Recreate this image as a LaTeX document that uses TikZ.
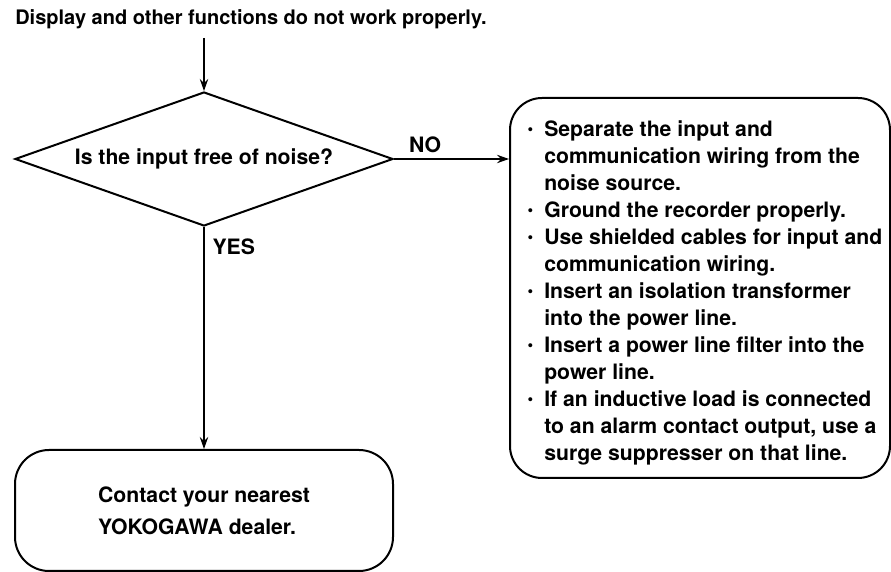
\documentclass[tikz,border=0pt]{standalone}
\usepackage{fontspec}
\setmainfont{TeX Gyre Heros}
\usetikzlibrary{arrows.meta,positioning,shapes.geometric}
\newcommand{\itemdot}{\raisebox{0.9pt}{\fontsize{8}{8}\selectfont\textbullet}}
\tikzset{
	txt/.style={font=\fontsize{10.6}{13.5}\selectfont\bfseries, inner sep=0pt},
	dec/.style={txt, draw, line width=1pt, diamond, aspect=2.8,
		minimum width=189pt, minimum height=67pt},
	blk/.style={txt, draw, line width=1pt, rounded corners=16pt, align=left},
	lbl/.style={txt, inner sep=1pt},
	arr/.style={line width=0.6pt, -{Stealth[length=6pt, width=4.2pt, inset=2pt]}},
}
\begin{document}
\begin{tikzpicture}[x=0.5pt, y=-0.5pt]
	\useasboundingbox (0,0) rectangle (891,572);
	\node[txt, font=\fontsize{10}{12}\selectfont\bfseries, anchor=base] at (251,25) (prob) {Display and other functions do not work properly.};
	\node[dec] at (204,159) (noise) {Is the input free of noise?};
	\node[blk, minimum width=190pt, minimum height=190pt] at (700,288) (fix) {%
		\hspace*{5pt}\begin{tabular}{@{}l@{\hspace{5.5pt}}l@{}}
			\itemdot & \rule{0pt}{14.4pt}Separate the input and\\
			& communication wiring from the\\
			& noise source.\\
			\itemdot & Ground the recorder properly.\\
			\itemdot & Use shielded cables for input and\\
			& communication wiring.\\
			\itemdot & Insert an isolation transformer\\
			& into the power line.\\
			\itemdot & Insert a power line filter into the\\
			& power line.\\
			\itemdot & If an inductive load is connected\\
			& to an alarm contact output, use a\\
			& surge suppresser on that line.
		\end{tabular}};
	\node[blk, rounded corners=17pt, minimum width=189pt, minimum height=60.5pt,
		font=\fontsize{10.6}{16}\selectfont\bfseries] at (204,510.5) (dealer) {Contact your nearest\\YOKOGAWA dealer.};
	\draw[arr] (noise.north |- prob.south) ++(0,8) -- (noise.north);
	\draw[arr] (noise.east) -- (fix.west |- noise.east) node[lbl, pos=0.27, above=2pt] {NO};
	\draw[arr] (noise.south) -- (dealer.north) node[lbl, pos=0.087, right=3pt] {YES};
\end{tikzpicture}
\end{document}
